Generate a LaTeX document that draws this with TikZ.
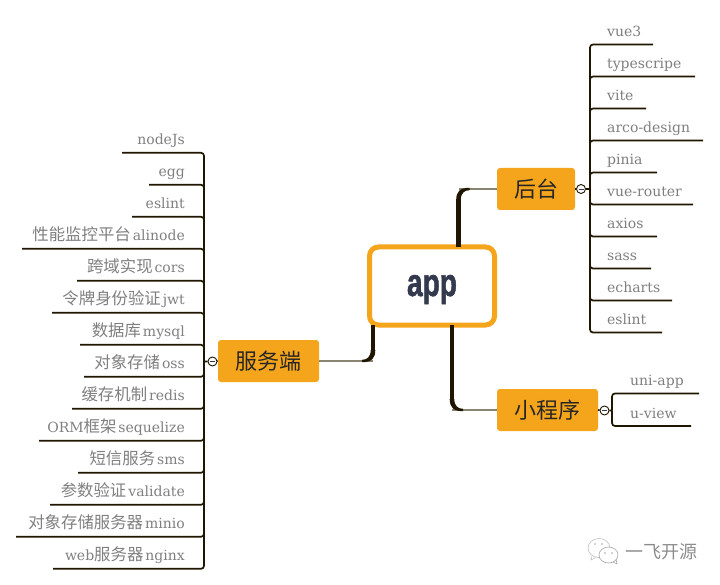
\documentclass[tikz,border=0pt]{standalone}
\usepackage{fontspec}
\setmainfont{DejaVu Serif}
\newfontfamily\cjk{Noto Sans CJK SC}
\newfontfamily\appfont[FakeBold=1.6]{Liberation Sans}
\newcommand{\zh}[1]{{\cjk\fontsize{16.4}{16.4}\selectfont #1}\kern2pt}
\definecolor{topicfill}{HTML}{F5A51B}
\definecolor{twigcolor}{HTML}{201600}
\definecolor{stemcolor}{HTML}{8A8472}
\definecolor{leafcolor}{HTML}{7F7F7F}
\definecolor{appcolor}{HTML}{333A4D}
\tikzset{
    topic/.style={fill=topicfill,rounded corners=3pt,minimum height=42pt,inner sep=0pt,font=\cjk\fontsize{22}{22}\selectfont,text=black!85},
    leaf/.style={text=leafcolor,inner sep=0pt,font=\fontsize{14}{14}\selectfont},
    twig/.style={draw=twigcolor,line width=1.7pt,rounded corners=3pt},
    trunk/.style={draw=twigcolor,line width=4.6pt},
    stem/.style={draw=stemcolor,line width=1.7pt},
    fold/.style={circle,draw=twigcolor,fill=white,line width=0.9pt,minimum size=9pt,inner sep=0pt},
    elbow/.pic={
        \fill[twigcolor] (-2.3,11) .. controls (-2.3,3) and (1,-1.2) .. (11,-1.2) -- (11,1.2) .. controls (6,1.2) and (2.3,4) .. (2.3,11) -- cycle;
    },
}
\begin{document}
\begin{tikzpicture}[x=1pt,y=-1pt]
    \useasboundingbox (0,0) rectangle (720,585);

    \node[draw=topicfill,line width=5pt,rounded corners=9pt,minimum width=125pt,minimum height=78pt,fill=white,inner sep=0pt] (app) at (432,286)
        {\raisebox{-10pt}[0pt][0pt]{\appfont\bfseries\fontsize{39}{39}\selectfont\color{appcolor}\scalebox{0.72}[1]{app}}};

    \node[topic,minimum width=78pt] (admin) at (536,189) {后台};
    \node[topic,minimum width=101pt] (server) at (268.5,361) {服务端};
    \node[topic,minimum width=101pt] (mini) at (547.5,410) {小程序};

    \node[fold] (adminfold) at (581,189) {};
    \node[fold] (serverfold) at (212.5,361.5) {};
    \node[fold] (minifold) at (604.5,410.5) {};

    \coordinate (adminknee) at (458.5,189);
    \coordinate (serverknee) at (373,361);
    \coordinate (miniknee) at (452,410);
    \coordinate (adminroot) at (458.5,247);
    \coordinate (serverroot) at (373,325);
    \coordinate (miniroot) at (452,325);

    % branches from the centre
    \draw[stem] (adminknee) -- (admin.west);
    \draw[stem] (serverknee) -- (server.east);
    \draw[stem] (miniknee) -- (mini.west);
    \draw[trunk] (adminroot) -- ([yshift=-11pt]adminknee);
    \draw[trunk] (serverroot) -- ([yshift=11pt]serverknee);
    \draw[trunk] (miniroot) -- ([yshift=11pt]miniknee);
    \pic at (adminknee) {elbow};
    \pic[xscale=-1,yscale=-1] at (serverknee) {elbow};
    \pic[yscale=-1] at (miniknee) {elbow};

    % right side
    \coordinate (adminspine) at (590,189);
    \draw[twig] (admin.east) -- (adminfold) -- (adminspine);
    \foreach \i/\txt/\xend in {0/vue3/653,1/typescripe/695,2/vite/646,3/arco-design/703,4/pinia/657,5/vue-router/693,6/axios/657,7/sass/651,8/echarts/672,9/eslint/662}
    {
        \pgfmathsetmacro{\yy}{44.5+32*\i}
        \node[leaf,anchor=base west] (adminleaf\i) at (607,\yy-8) {\txt};
        \coordinate (adminend\i) at (\xend,\yy);
        \draw[twig] (adminspine) |- (adminend\i);
    }

    \coordinate (minispine) at (612,410.5);
    \draw[twig] (mini.east) -- (minifold) -- (minispine);
    \foreach \i/\txt/\xend in {0/uni-app/699,1/u-view/691}
    {
        \pgfmathsetmacro{\yy}{393.5+32.5*\i}
        \node[leaf,anchor=base west] (minileaf\i) at (630,\yy-8) {\txt};
        \coordinate (miniend\i) at (\xend,\yy);
        \draw[twig] (minispine) |- (miniend\i);
    }

    % left side
    \coordinate (serverspine) at (204,361.5);
    \draw[twig] (server.west) -- (serverfold) -- (serverspine);
    \foreach \i/\txt/\xend in {0/nodeJs/122,1/egg/149,2/eslint/132,3/\zh{性能监控平台}alinode/22,4/\zh{跨域实现}cors/77,5/\zh{令牌身份验证}jwt/52,6/\zh{数据库}mysql/80,7/\zh{对象存储}oss/84,8/\zh{缓存机制}redis/72,9/ORM\zh{框架}sequelize/39,10/\zh{短信服务}sms/78,11/\zh{参数验证}validate/50,12/\zh{对象存储服务器}minio/16,13/web\zh{服务器}nginx/53}
    {
        \pgfmathsetmacro{\yy}{152.8+32*\i}
        \node[leaf,anchor=base east] (serverleaf\i) at (185,\yy-8) {\txt};
        \coordinate (serverend\i) at (\xend,\yy);
        \draw[twig] (serverspine) |- (serverend\i);
    }

    \foreach \n in {adminfold,serverfold,minifold}
    {
        \draw[appcolor,line width=0.7pt] ([xshift=-2.5pt]\n.center) -- ([xshift=2.5pt]\n.center);
    }

    % watermark
    \draw[gray!50,line width=0.6pt,fill=white] (599,548) ellipse (11 and 9.5);
    \draw[gray!50,line width=0.6pt] (592,556) -- (591,560) -- (596,557.5);
    \draw[gray!70,line width=0.6pt,fill=white] (608.5,555) ellipse (9.5 and 8);
    \draw[gray!70,line width=0.6pt] (613,562) -- (617,564) -- (616,559);
    \fill[gray!70] (595,544) circle (0.9) (602,544) circle (0.9) (605,553) circle (0.9) (612,553) circle (0.9);
    \node[text=gray!90,inner sep=0pt,font=\cjk\fontsize{18}{18}\selectfont] (mark) at (661,552) {一飞开源};
\end{tikzpicture}
\end{document}
